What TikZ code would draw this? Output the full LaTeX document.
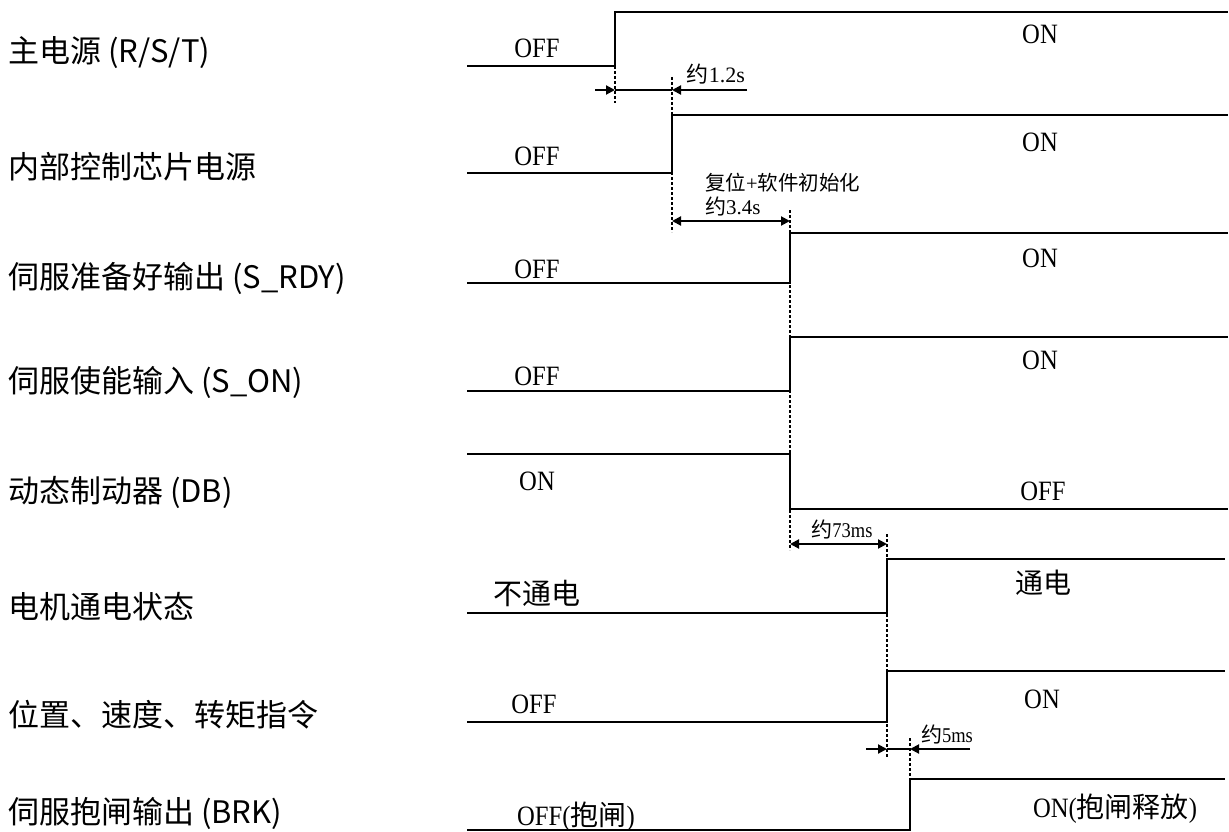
\documentclass[tikz,border=0pt]{standalone}
\usepackage{fontspec}
\setmainfont{Liberation Serif}
\newfontfamily\cjk{Noto Sans CJK SC}
\usetikzlibrary{arrows.meta}
\newcommand\zh[1]{{\cjk #1}}
\newcommand\sx[1]{\scalebox{0.88}[1]{#1}}
\tikzset{
  wave/.style={line width=2pt,line join=miter},
  guide/.style={line width=1.8pt,dash pattern=on 3pt off 2pt},
  dim/.style={line width=2pt},
  tip/.style={-{Triangle[length=9pt,width=9pt]}},
  bitip/.style={{Triangle[length=9pt,width=9pt]}-{Triangle[length=9pt,width=9pt]}},
  rowlabel/.style={anchor=west,inner sep=0pt,font=\cjk\fontsize{31}{34}\selectfont},
  state/.style={anchor=base,inner sep=0pt,font=\fontsize{28}{30}\selectfont},
  zhstate/.style={anchor=base,inner sep=0pt,font=\cjk\fontsize{29}{32}\selectfont},
  note/.style={anchor=base,inner sep=0pt,font=\fontsize{21}{24}\selectfont},
}
\begin{document}
\begin{tikzpicture}[x=1pt,y=-1pt]
\useasboundingbox (0,0) rectangle (1229,832);
\fill[white] (0,0) rectangle (1229,832);

% row labels
\node[rowlabel] (l1) at (8,53)  {主电源 (R/S/T)};
\node[rowlabel] (l2) at (8,167) {内部控制芯片电源};
\node[rowlabel] (l3) at (8,278) {伺服准备好输出 (S\_RDY)};
\node[rowlabel] (l4) at (8,382) {伺服使能输入 (S\_ON)};
\node[rowlabel] (l5) at (8,492) {动态制动器 (DB)};
\node[rowlabel] (l6) at (8,607) {电机通电状态};
\node[rowlabel] (l7) at (8,715) {位置、速度、转矩指令};
\node[rowlabel] (l8) at (8,813) {伺服抱闸输出 (BRK)};

% guide (dotted) lines
\draw[guide] (615,66) -- (615,103);
\draw[guide] (672,77) -- (672,232);
\draw[guide] (790,210) -- (790,550);
\draw[guide] (887,534) -- (887,758);
\draw[guide] (910,738) -- (910,779);

% waveforms
\draw[wave] (467,66)  -- (615,66)  -- (615,12)  -- (1228,12);
\draw[wave] (467,173) -- (672,173) -- (672,115) -- (1228,115);
\draw[wave] (467,283) -- (790,283) -- (790,233) -- (1228,233);
\draw[wave] (467,391) -- (790,391) -- (790,337) -- (1228,337);
\draw[wave] (467,454) -- (790,454) -- (790,509) -- (1228,509);
\draw[wave] (467,613) -- (887,613) -- (887,559) -- (1225,559);
\draw[wave] (467,722) -- (887,722) -- (887,671) -- (1225,671);
\draw[wave] (467,830) -- (910,830) -- (910,779) -- (1225,779);

% state texts
\node[state] (s1a) at (537,58)  {\sx{OFF}};
\node[state] (s1b) at (1040,44) {\sx{ON}};
\node[state] (s2a) at (537,165) {\sx{OFF}};
\node[state] (s2b) at (1040,152) {\sx{ON}};
\node[state] (s3a) at (537,278) {\sx{OFF}};
\node[state] (s3b) at (1040,267) {\sx{ON}};
\node[state] (s4a) at (537,385) {\sx{OFF}};
\node[state] (s4b) at (1040,369) {\sx{ON}};
\node[state] (s5a) at (537,490) {\sx{ON}};
\node[state] (s5b) at (1043,500) {\sx{OFF}};
\node[zhstate] (s6a) at (537,604) {不通电};
\node[zhstate,font=\cjk\fontsize{28}{30}\selectfont] (s6b) at (1043,593) {通电};
\node[state] (s7a) at (534,713) {\sx{OFF}};
\node[state] (s7b) at (1042,708) {\sx{ON}};
\node[state] (s8a) at (576,825) {\sx{OFF(}\zh{抱闸}\sx{)}};
\node[state] (s8b) at (1115,817) {\sx{ON(}\zh{抱闸释放}\sx{)}};

% dimension coordinates
\coordinate (a1l) at (595,90);  \coordinate (a1p) at (615,90);
\coordinate (a1q) at (672,90);  \coordinate (a1r) at (747,90);
\coordinate (a2l) at (672,221); \coordinate (a2r) at (790,221);
\coordinate (a3l) at (790,544); \coordinate (a3r) at (887,544);
\coordinate (a4l) at (866,749); \coordinate (a4p) at (887,749);
\coordinate (a4q) at (910,749); \coordinate (a4r) at (970,749);

% dimension arrows
\draw[dim] (a1p) -- (a1q);
\draw[dim,tip] (a1l) -- (a1p);
\draw[dim,tip] (a1r) -- (a1q);
\draw[dim,bitip] (a2l) -- (a2r);
\draw[dim,bitip] (a3l) -- (a3r);
\draw[dim] (a4p) -- (a4q);
\draw[dim,tip] (a4l) -- (a4p);
\draw[dim,tip] (a4r) -- (a4q);

% dimension texts
\node[note,font=\fontsize{22}{24}\selectfont] (n1) at (716,83) {\zh{约}1.2s};
\node[note,anchor=base west,font=\fontsize{20.5}{24}\selectfont] (n2) at (705,190) {\zh{复位}+\zh{软件初始化}};
\node[note,anchor=base west] (n3) at (705,214) {\zh{约}3.4s};
\node[note] (n4) at (842,537) {\zh{约}\sx{73ms}};
\node[note] (n5) at (947,742) {\zh{约}\sx{5ms}};
\end{tikzpicture}
\end{document}
